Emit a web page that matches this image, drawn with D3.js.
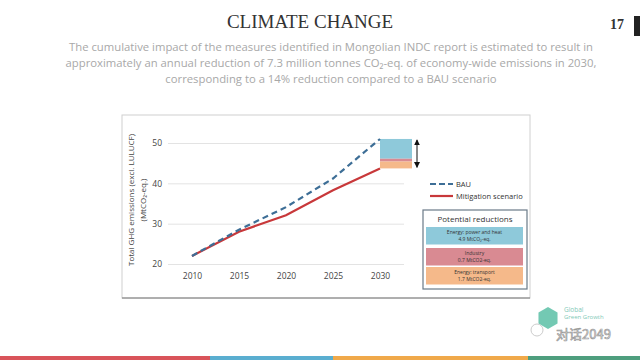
<!DOCTYPE html>
<html><head><meta charset="utf-8">
<script src="https://cdn.jsdelivr.net/npm/d3@7"></script>
<style>body{margin:0;background:#fff}svg{display:block}</style>
</head><body>
<svg id="c" width="640" height="360"></svg>
<script>
const years = [2010, 2015, 2020, 2025, 2030];
const bau = [22, 28.5, 34.1, 41.2, 51.0];
const mitigation = [22, 28, 32.1, 38.3, 43.7];
const yTicks = [20, 30, 40, 50];
const reductionNames = ["Energy: power and heat", "Industry", "Energy: transport"];
const reductionLabels = ["4.9 MtCO\u2082-eq.", "0.7 MtCO2-eq.", "1.7 MtCO2-eq."];
const reductionValues = [4.9, 0.7, 1.7];
const reductionColors = ["#8ec9da", "#d98a92", "#f5b98a"];
const stripeColors = ["#d9545a", "#5aaed0", "#f0a94a", "#4e9e7e"];
const stripeWidths = [210, 123, 195, 112];

const svg = d3.select("#c");

// Header
svg.append("text").attr("x", 310).attr("y", 28).attr("text-anchor", "middle")
  .attr("font-family", "Liberation Serif, serif").attr("font-size", 19).attr("fill", "#333")
  .text("CLIMATE CHANGE");
svg.append("text").attr("x", 624).attr("y", 29).attr("text-anchor", "end")
  .attr("font-family", "Liberation Serif, serif").attr("font-size", 14).attr("font-weight", "bold").attr("fill", "#333")
  .text("17");
svg.append("rect").attr("x", 634).attr("y", 16).attr("width", 6).attr("height", 20).attr("fill", "#222");

const sub = svg.append("g").attr("font-family", "Open Sans, sans-serif").attr("font-size", 11.3)
  .attr("fill", "#a8a8a8").attr("text-anchor", "middle");
sub.append("text").attr("x", 331).attr("y", 51).text("The cumulative impact of the measures identified in Mongolian INDC report is estimated to result in");
sub.append("text").attr("x", 331).attr("y", 67).text("approximately an annual reduction of 7.3 million tonnes CO\u2082-eq. of economy-wide emissions in 2030,");
sub.append("text").attr("x", 331).attr("y", 83).text("corresponding to a 14% reduction compared to a BAU scenario");

// Chart frame
svg.append("rect").attr("x", 122).attr("y", 115).attr("width", 408).attr("height", 183)
  .attr("fill", "#fff").attr("stroke", "#d0d0d0");
svg.append("line").attr("x1", 122).attr("x2", 530).attr("y1", 298).attr("y2", 298).attr("stroke", "#777");

const x = d3.scaleLinear().domain([2010, 2030]).range([192, 380]);
const y = d3.scaleLinear().domain([20, 50]).range([264, 143]);

// grid
const grid = svg.append("g").attr("transform", "translate(168,0)")
  .call(d3.axisLeft(y).tickValues(yTicks).tickSize(-236).tickFormat(d => d).tickPadding(6));
grid.select(".domain").remove();
grid.selectAll(".tick line").attr("stroke", "#e3e3e3");
grid.selectAll(".tick text").attr("font-family", "Open Sans, sans-serif").attr("font-size", 8.5).attr("fill", "#444");

const xa = svg.append("g").attr("transform", "translate(0,264)")
  .call(d3.axisBottom(x).tickValues(years).tickSize(0).tickFormat(d3.format("d")).tickPadding(9));
xa.select(".domain").remove();
xa.selectAll(".tick text").attr("font-family", "Open Sans, sans-serif").attr("font-size", 8.5).attr("fill", "#444");

// axis title
const yt = svg.append("g").attr("font-family", "Open Sans, sans-serif").attr("font-size", 8).attr("fill", "#444")
  .attr("text-anchor", "middle");
yt.append("text").attr("transform", "translate(134,200) rotate(-90)").text("Total GHG emissions (excl. LULUCF)");
yt.append("text").attr("transform", "translate(146,200) rotate(-90)").text("(MtCO\u2082-eq.)");

// stacked reductions at 2030
let stackTop = bau[4];
const stack = svg.append("g");
reductionValues.forEach((v, i) => {
  stack.append("rect").attr("x", x(2030)).attr("width", 32)
    .attr("y", y(stackTop)).attr("height", y(stackTop - v) - y(stackTop)).attr("fill", reductionColors[i]);
  stackTop -= v;
});

// lines
const line = d3.line().x((d, i) => x(years[i])).y(d => y(d));
svg.append("path").datum(mitigation).attr("d", line).attr("fill", "none")
  .attr("stroke", "#c8383a").attr("stroke-width", 2.2);
svg.append("path").datum(bau).attr("d", line).attr("fill", "none")
  .attr("stroke", "#3d6e96").attr("stroke-width", 2.2).attr("stroke-dasharray", "6,4");

// double arrow
const ax = 417;
const defs = svg.append("defs");
defs.append("marker").attr("id", "ah").attr("viewBox", "0 0 10 10").attr("refX", 9).attr("refY", 5)
  .attr("markerWidth", 6).attr("markerHeight", 6).attr("orient", "auto-start-reverse")
  .append("path").attr("d", "M0,0L10,5L0,10z").attr("fill", "#111");
svg.append("line").attr("x1", ax).attr("x2", ax).attr("y1", y(bau[4]) + 1).attr("y2", y(mitigation[4]) - 1)
  .attr("stroke", "#111").attr("stroke-width", 1)
  .attr("marker-start", "url(#ah)").attr("marker-end", "url(#ah)");

// legend
const lg = svg.append("g").attr("font-family", "Open Sans, sans-serif").attr("font-size", 7.5).attr("fill", "#333");
lg.append("line").attr("x1", 430).attr("x2", 453).attr("y1", 184).attr("y2", 184)
  .attr("stroke", "#3d6e96").attr("stroke-width", 2.2).attr("stroke-dasharray", "6,3");
lg.append("text").attr("x", 456).attr("y", 187).text("BAU");
lg.append("line").attr("x1", 430).attr("x2", 453).attr("y1", 196).attr("y2", 196)
  .attr("stroke", "#c8383a").attr("stroke-width", 2.2);
lg.append("text").attr("x", 456).attr("y", 199).text("Mitigation scenario");

// potential reductions box
const pb = svg.append("g").attr("font-family", "Open Sans, sans-serif");
pb.append("rect").attr("x", 423).attr("y", 210).attr("width", 104).attr("height", 79)
  .attr("fill", "#fff").attr("stroke", "#6a7a88").attr("stroke-width", 1.2);
pb.append("text").attr("x", 475).attr("y", 222).attr("text-anchor", "middle").attr("font-size", 8)
  .attr("fill", "#333").text("Potential reductions");
const boxY = [227, 248, 267];
reductionNames.forEach((n, i) => {
  pb.append("rect").attr("x", 426).attr("y", boxY[i]).attr("width", 97).attr("height", 17.5)
    .attr("fill", reductionColors[i]);
  pb.append("text").attr("x", 474.5).attr("y", boxY[i] + 7).attr("text-anchor", "middle")
    .attr("font-size", 5).attr("fill", "#333").text(n);
  pb.append("text").attr("x", 474.5).attr("y", boxY[i] + 14).attr("text-anchor", "middle")
    .attr("font-size", 5).attr("fill", "#333").text(reductionLabels[i]);
});

// logo + watermark
const logo = svg.append("g");
const hex = d3.range(6).map(k => [548 + 11 * Math.cos(Math.PI / 3 * k + Math.PI / 6), 318 + 11 * Math.sin(Math.PI / 3 * k + Math.PI / 6)]);
logo.append("path").attr("d", "M" + hex.join("L") + "Z").attr("fill", "#5bbfa6").attr("opacity", 0.85);
logo.append("text").attr("x", 564).attr("y", 312).attr("font-family", "Open Sans, sans-serif").attr("font-size", 6.5)
  .attr("fill", "#7fc9b7").text("Global");
logo.append("text").attr("x", 564).attr("y", 319).attr("font-family", "Open Sans, sans-serif").attr("font-size", 6)
  .attr("fill", "#7fc9b7").text("Green Growth");
svg.append("circle").attr("cx", 537).attr("cy", 330).attr("r", 6).attr("fill", "none").attr("stroke", "#ccc");
svg.append("text").attr("x", 556).attr("y", 339).attr("font-family", "Noto Sans CJK SC, sans-serif")
  .attr("font-size", 13).attr("fill", "#fff").attr("stroke", "#999").attr("stroke-width", 0.7)
  .text("对话2049");

// bottom stripe
let sx = 0;
stripeColors.forEach((c, i) => {
  svg.append("rect").attr("x", sx).attr("y", 356).attr("width", stripeWidths[i]).attr("height", 4).attr("fill", c);
  sx += stripeWidths[i];
});
</script>
</body></html>
